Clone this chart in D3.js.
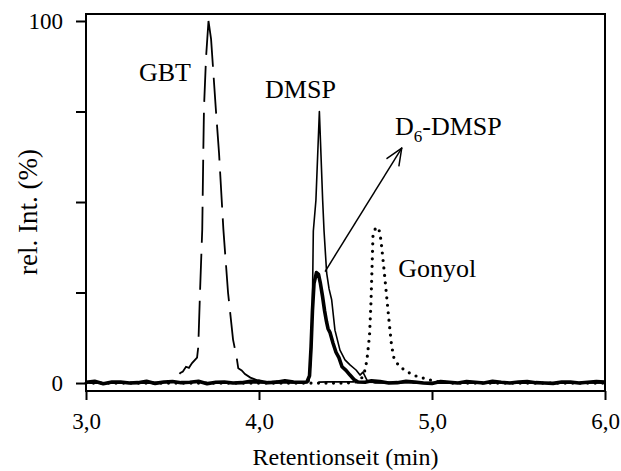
<!DOCTYPE html>
<html>
<head>
<meta charset="utf-8">
<script src="https://cdn.jsdelivr.net/npm/d3@7"></script>
<style>
  html, body { margin: 0; padding: 0; background: #fff; }
  svg { display: block; }
  text { font-family: "Liberation Serif", "Times New Roman", serif; fill: #000; }
</style>
</head>
<body>
<svg id="chart" width="621" height="471"></svg>
<script>
// ---- data ----
const xTicks = [3, 4, 5, 6];
const xTickLabels = ["3,0", "4,0", "5,0", "6,0"];
const yTicks = [0, 25, 50, 75, 100];
const yTickLabels = ["0", "", "", "", "100"];
const xTitle = "Retentionseit (min)";
const yTitle = "rel. Int. (%)";

// GBT (dashed)
const gbtTime = [3.0, 3.2, 3.4, 3.50, 3.526, 3.545, 3.56, 3.578, 3.595, 3.613, 3.642, 3.649, 3.659, 3.672, 3.678, 3.682, 3.694, 3.708, 3.723, 3.750, 3.769, 3.794, 3.821, 3.850, 3.871, 3.880, 3.90, 3.919, 3.95, 3.987, 4.05, 4.1, 4.2, 4.4, 4.6, 5.0, 5.5, 6.0];
const gbtValue = [0, 0, 0, 0.3, 1.7, 2.8, 3.2, 4.5, 4.2, 5.5, 7, 10, 25, 42.5, 63.5, 76, 90, 100, 95, 76, 63.5, 42.5, 25, 12, 7, 4.1, 3.5, 2.5, 1.5, 0.8, 0.3, 0.5, 0.2, 0.3, 0.3, 0, 0, 0];

// DMSP (thin solid)
const dmspTime = [3.0, 3.5, 4.0, 4.2, 4.266, 4.289, 4.301, 4.309, 4.314, 4.329, 4.349, 4.368, 4.376, 4.391, 4.405, 4.420, 4.439, 4.468, 4.497, 4.526, 4.561, 4.584, 4.601, 4.624, 4.671, 5.0, 5.5, 6.0];
const dmspValue = [0, 0.2, 0, 0.1, 0, 0.5, 6.4, 23, 42, 50.5, 75, 50.5, 42, 30.4, 26, 23, 14.6, 9.1, 6.4, 5, 3.6, 2.2, 3, 0.8, 0, 0.1, 0, 0];

// D6-DMSP (thick solid)
const d6Time = [3.00, 3.05, 3.10, 3.15, 3.20, 3.25, 3.30, 3.35, 3.40, 3.45, 3.50, 3.55, 3.60, 3.65, 3.70, 3.75, 3.80, 3.85, 3.90, 3.95, 4.00, 4.05, 4.10, 4.15, 4.20, 4.237, 4.277, 4.292, 4.301, 4.309, 4.318, 4.332, 4.344, 4.355, 4.367, 4.379, 4.390, 4.399, 4.410, 4.428, 4.445, 4.462, 4.480, 4.503, 4.526, 4.549, 4.572, 4.613, 4.65, 4.70, 4.75, 4.80, 4.85, 4.90, 4.95, 5.00, 5.05, 5.10, 5.15, 5.20, 5.25, 5.30, 5.35, 5.40, 5.45, 5.50, 5.55, 5.60, 5.65, 5.70, 5.75, 5.80, 5.85, 5.90, 5.95, 6.00];
const d6Value = [0.2, 0.5, -0.2, 0.3, 0.3, 0.0, 0.1, 0.5, -0.1, 0.3, 0.4, 0.1, 0.2, 0.5, -0.2, 0.2, 0.3, 0.0, 0.1, 0.5, 0.5, 0.1, 0.2, 0.6, 0.3, 0.2, 0.3, 2, 10, 20, 27.5, 30.5, 30, 27.5, 24, 20, 17, 15, 14, 11, 8.5, 7, 4.5, 3.5, 2.2, 1, 0.3, 0.2, 0.6, 0.4, 0.0, 0.1, 0.5, 0.3, 0.0, -0.1, 0.4, 0.2, 0.0, 0.4, 0.2, 0, 0.5, 0.2, 0.0, 0.3, 0.4, 0.1, 0.0, -0.1, 0.3, 0.3, 0.0, 0.2, 0.4, 0.3];

// Gonyol (dotted)
const gonTime = [3.0, 3.5, 4.0, 4.3, 4.5, 4.555, 4.584, 4.601, 4.616, 4.627, 4.639, 4.647, 4.653, 4.659, 4.676, 4.694, 4.705, 4.723, 4.740, 4.754, 4.766, 4.780, 4.809, 4.850, 4.896, 4.948, 5.017, 5.104, 5.5, 6.0];
const gonValue = [0, 0, 0, 0, 0, 0.2, 0.8, 1.9, 4.1, 7.7, 13.3, 22, 31.2, 40.9, 43.1, 42.3, 39.5, 31.2, 22.9, 16, 10.5, 6.9, 4.7, 3.3, 2.1, 1.4, 0.5, 0, 0, 0];

// annotations: label, anchor time, anchor value
const labels = [
  { text: "GBT", t: 3.306, v: 83.5 },
  { text: "DMSP", t: 4.035, v: 78.6 },
  { text: "Gonyol", t: 4.805, v: 29.2 }
];
const d6Label = { t: 4.786, v: 68.5 };
const arrowFrom = { t: 4.382, v: 30.8 };
const arrowTo = { t: 4.825, v: 64.9 };

// ---- layout ----
const svg = d3.select("#chart");
const mLeft = 86, mRight = 605, mTop = 14, mBottom = 391;
const x = d3.scaleLinear().domain([3, 6]).range([mLeft, mRight]);
const y = d3.scaleLinear().domain([-2.2, 101.93]).range([mBottom, mTop]);

// frame
svg.append("rect")
  .attr("x", mLeft).attr("y", mTop)
  .attr("width", mRight - mLeft).attr("height", mBottom - mTop)
  .attr("fill", "none").attr("stroke", "#000").attr("stroke-width", 2);

// y axis
const yAxis = svg.append("g").attr("transform", `translate(${mLeft},0)`)
  .call(d3.axisLeft(y).tickValues(yTicks).tickSize(10).tickPadding(13)
    .tickFormat((d, i) => yTickLabels[i]));
yAxis.select(".domain").remove();
yAxis.selectAll("line").attr("stroke", "#000").attr("stroke-width", 2);
yAxis.selectAll("text").style("font-family", '"Liberation Serif", serif').style("font-size", "23px").attr("dy", "0.34em");

// x axis
const xAxis = svg.append("g").attr("transform", `translate(0,${mBottom})`)
  .call(d3.axisBottom(x).tickValues(xTicks).tickSize(9).tickPadding(13)
    .tickFormat((d, i) => xTickLabels[i]));
xAxis.select(".domain").remove();
xAxis.selectAll("line").attr("stroke", "#000").attr("stroke-width", 2);
xAxis.selectAll("text").style("font-family", '"Liberation Serif", serif').style("font-size", "23px");

// titles
svg.append("text").attr("x", (mLeft + mRight) / 2).attr("y", 465)
  .attr("text-anchor", "middle").style("font-size", "24px").text(xTitle);
svg.append("text").attr("transform", `translate(37,212) rotate(-90)`)
  .attr("text-anchor", "middle").style("font-size", "27px").text(yTitle);

// series
const line = d3.line().x(d => x(d[0])).y(d => y(d[1]));
const zip = (a, b) => a.map((t, i) => [t, b[i]]);

svg.append("path").datum(zip(gonTime, gonValue)).attr("d", line)
  .attr("fill", "none").attr("stroke", "#000").attr("stroke-width", 3.2)
  .attr("stroke-linecap", "round").attr("stroke-dasharray", "0,7.5");

// GBT dashed: regular dashes, with one longer dash running over the peak
const gbtData = zip(gbtTime, gbtValue);
const peakIdx = gbtValue.indexOf(d3.max(gbtValue));
const gbtPath = svg.append("path").datum(gbtData).attr("d", line)
  .attr("fill", "none").attr("stroke", "#000").attr("stroke-width", 1.8);
const tmp = svg.append("path").attr("d", line(gbtData.slice(0, peakIdx + 1)));
const lenToPeak = tmp.node().getTotalLength();
tmp.remove();
const totalLen = gbtPath.node().getTotalLength();
const dashOn = 36, dashOff = 11, period = dashOn + dashOff;
const peakBefore = 34, peakAfter = 46;
const start = lenToPeak - peakBefore;
const k = Math.floor(start / period);
const r = start - k * period;
const dashes = [];
if (r >= dashOff) dashes.push(r - dashOff, dashOff); else dashes.push(0, r);
for (let i = 0; i < k; i++) dashes.push(dashOn, dashOff);
dashes.push(peakBefore + peakAfter);
let acc = d3.sum(dashes);
while (acc < totalLen + period) { dashes.push(dashOff, dashOn); acc += period; }
dashes.push(dashOff);
gbtPath.attr("stroke-dasharray", dashes.map(d => d.toFixed(2)).join(","));

svg.append("path").datum(zip(dmspTime, dmspValue)).attr("d", line)
  .attr("fill", "none").attr("stroke", "#000").attr("stroke-width", 1.6)
  .attr("stroke-linejoin", "round");

svg.append("path").datum(zip(d6Time, d6Value)).attr("d", line)
  .attr("fill", "none").attr("stroke", "#000").attr("stroke-width", 3.6)
  .attr("stroke-linejoin", "round");

// labels
labels.forEach(l => {
  svg.append("text").attr("x", x(l.t)).attr("y", y(l.v))
    .style("font-size", "26px").text(l.text);
});
// D6-DMSP label with subscript
const d6 = svg.append("text").attr("x", x(d6Label.t)).attr("y", y(d6Label.v)).style("font-size", "26px");
d6.append("tspan").text("D");
d6.append("tspan").attr("dy", 7).style("font-size", "17px").text("6");
d6.append("tspan").attr("dy", -7).text("-DMSP");

// arrow
const ax1 = x(arrowFrom.t), ay1 = y(arrowFrom.v), ax2 = x(arrowTo.t), ay2 = y(arrowTo.v);
svg.append("line").attr("x1", ax1).attr("y1", ay1).attr("x2", ax2).attr("y2", ay2)
  .attr("stroke", "#000").attr("stroke-width", 1.5);
const ang = Math.atan2(ay2 - ay1, ax2 - ax1);
const hl = 18, ha = 0.4;
[ang + Math.PI - ha, ang + Math.PI + ha].forEach(a => {
  svg.append("line").attr("x1", ax2).attr("y1", ay2)
    .attr("x2", ax2 + hl * Math.cos(a)).attr("y2", ay2 + hl * Math.sin(a))
    .attr("stroke", "#000").attr("stroke-width", 1.5).attr("stroke-linecap", "round");
});
</script>
</body>
</html>
